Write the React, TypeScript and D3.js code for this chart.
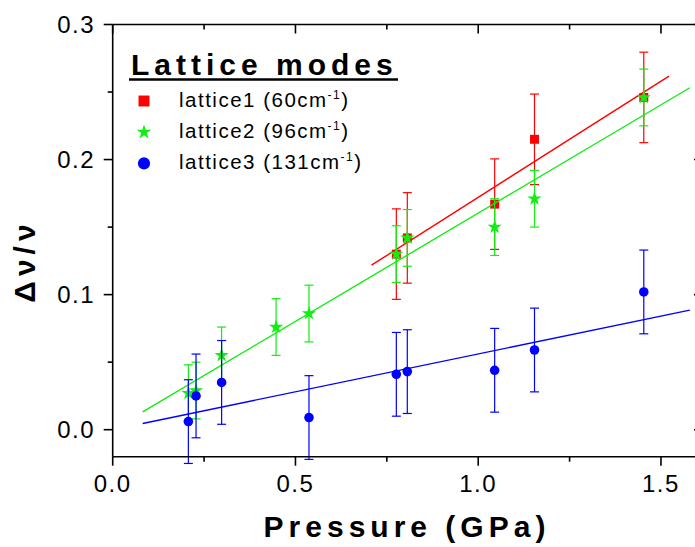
import React from "react";
import * as d3 from "d3";

// pressure (GPa) and relative shift for each lattice mode
const pressure1 = [0.776, 0.806, 1.045, 1.154, 1.453];
const shift1 = [0.13, 0.142, 0.167, 0.215, 0.246];
const pressure2 = [0.207, 0.228, 0.298, 0.447, 0.537, 0.776, 0.806, 1.045, 1.154, 1.453];
const shift2 = [0.027, 0.029, 0.055, 0.076, 0.086, 0.13, 0.142, 0.15, 0.171, 0.246];
const pressure3 = [0.207, 0.228, 0.298, 0.537, 0.776, 0.806, 1.045, 1.154, 1.453];
const shift3 = [0.006, 0.025, 0.035, 0.009, 0.041, 0.043, 0.044, 0.059, 0.102];
const errors = [0.0335, 0.021, 0.031];
// pressure range covered by each fitted line
const fitRanges = [
  [0.708, 1.522],
  [0.082, 1.579],
  [0.082, 1.579],
];
const names = ["lattice1 (60cm", "lattice2 (96cm", "lattice3 (131cm"];
const colors = ["#ff0000", "#11ee11", "#0000ff"];

const xMajor = [0, 0.5, 1.0, 1.5];
const xMinor = [0.25, 0.75, 1.25];
const yMajor = [0, 0.1, 0.2, 0.3];
const yMinor = [0.05, 0.15, 0.25];

const FONT = "'Liberation Sans', Arial, Helvetica, sans-serif";

export default function App() {
  const width = 695;
  const height = 547;

  const x = d3.scaleLinear().domain([0, 1.615]).range([112.7, 703]);
  const y = d3.scaleLinear().domain([-0.02, 0.3]).range([456.7, 24.5]);
  const [x0, x1] = x.range();
  const [y0, y1] = y.range();

  const series = [
    { p: pressure1, v: shift1, symbol: d3.symbolSquare, size: 80, legendSize: 120 },
    { p: pressure2, v: shift2, symbol: d3.symbolStar, size: 62, legendSize: 66 },
    { p: pressure3, v: shift3, symbol: d3.symbolCircle, size: 72, legendSize: 115 },
  ].map((s, i) => {
    // least squares fit through the origin
    const slope = d3.sum(s.p, (p, j) => p * s.v[j]) / d3.sum(s.p, (p) => p * p);
    return { ...s, slope, err: errors[i], color: colors[i], range: fitRanges[i], name: names[i] };
  });

  const line = d3
    .line<number[]>()
    .x((d) => x(d[0]))
    .y((d) => y(d[1]));

  const cap = 4.5;

  return (
    <svg
      width={width}
      height={height}
      style={{ position: "absolute", left: 0, top: 0, background: "#fff" }}
      fontFamily={FONT}
    >
      {/* data */}
      {series.map((s, i) => (
        <g key={i}>
          {s.p.map((p, j) => (
            <g key={j} stroke={s.color} strokeWidth={1.2}>
              <line x1={x(p)} x2={x(p)} y1={y(s.v[j] - s.err)} y2={y(s.v[j] + s.err)} />
              <line x1={x(p) - cap} x2={x(p) + cap} y1={y(s.v[j] - s.err)} y2={y(s.v[j] - s.err)} />
              <line x1={x(p) - cap} x2={x(p) + cap} y1={y(s.v[j] + s.err)} y2={y(s.v[j] + s.err)} />
            </g>
          ))}
          <path
            d={line(s.range.map((p) => [p, p * s.slope])) || ""}
            fill="none"
            stroke={s.color}
            strokeWidth={1.4}
          />
          {s.p.map((p, j) => (
            <path
              key={j}
              d={d3.symbol(s.symbol, s.size)() || ""}
              transform={`translate(${x(p)},${y(s.v[j])})`}
              fill={s.color}
            />
          ))}
        </g>
      ))}

      {/* frame */}
      <g stroke="#000" strokeWidth={1.6} fill="none">
        <line x1={x0} x2={x1} y1={y0} y2={y0} />
        <line x1={x0} x2={x1} y1={y1} y2={y1} />
        <line x1={x0} x2={x0} y1={y0} y2={y1} />
        <line x1={x1} x2={x1} y1={y0} y2={y1} />
        {xMajor.map((t) => (
          <g key={t}>
            <line x1={x(t)} x2={x(t)} y1={y0} y2={y0 + 9} />
            <line x1={x(t)} x2={x(t)} y1={y1} y2={y1 + 9} />
          </g>
        ))}
        {xMinor.map((t) => (
          <g key={t}>
            <line x1={x(t)} x2={x(t)} y1={y0} y2={y0 + 5} />
            <line x1={x(t)} x2={x(t)} y1={y1} y2={y1 + 5} />
          </g>
        ))}
        {yMajor.map((t) => (
          <g key={t}>
            <line x1={x0 - 9} x2={x0} y1={y(t)} y2={y(t)} />
            <line x1={x1 - 9} x2={x1} y1={y(t)} y2={y(t)} />
          </g>
        ))}
        {yMinor.map((t) => (
          <g key={t}>
            <line x1={x0 - 5} x2={x0} y1={y(t)} y2={y(t)} />
            <line x1={x1 - 5} x2={x1} y1={y(t)} y2={y(t)} />
          </g>
        ))}
      </g>

      {/* tick labels */}
      <g fontSize={24} fill="#000" letterSpacing={1.5}>
        {xMajor.map((t) => (
          <text key={t} x={x(t)} y={492} textAnchor="middle">
            {d3.format(".1f")(t)}
          </text>
        ))}
        {yMajor.map((t) => (
          <text key={t} x={95} y={y(t)} dy="0.36em" textAnchor="end">
            {d3.format(".1f")(t)}
          </text>
        ))}
      </g>

      {/* axis titles */}
      <text x={407} y={537} textAnchor="middle" fontSize={30} fontWeight="bold" letterSpacing={5}>
        Pressure (GPa)
      </text>
      <text
        transform="translate(35,261) rotate(-90)"
        textAnchor="middle"
        fontSize={30}
        fontWeight="bold"
        letterSpacing={5}
      >
        Δν/ν
      </text>

      {/* legend */}
      <text x={131} y={75} fontSize={30} fontWeight="bold" letterSpacing={5}>
        Lattice modes
      </text>
      <line x1={129} x2={398} y1={79.5} y2={79.5} stroke="#000" strokeWidth={2.5} />
      {series.map((s, i) => {
        const cy = 101 + i * 31.2;
        return (
          <g key={i}>
            <path d={d3.symbol(s.symbol, s.legendSize)() || ""} transform={`translate(144,${cy})`} fill={s.color} />
            <text x={179} y={cy + 6} fontSize={20.5} letterSpacing={1.5}>
              {s.name}
              <tspan fontSize={12} dy={-8}>
                -1
              </tspan>
              <tspan dy={8}>)</tspan>
            </text>
          </g>
        );
      })}
    </svg>
  );
}
